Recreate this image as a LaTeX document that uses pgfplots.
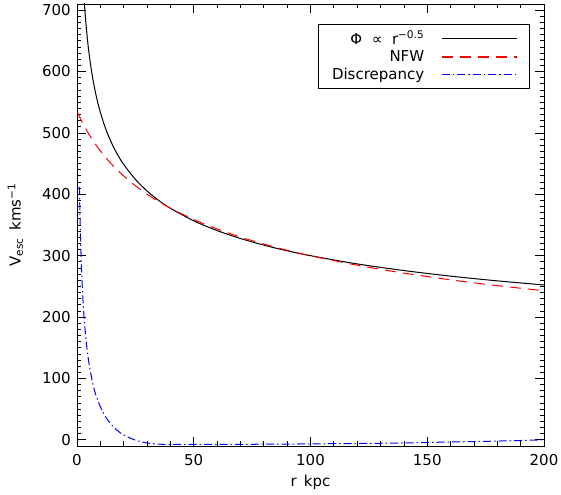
\documentclass[border=0pt]{standalone}
\usepackage{pgfplots}
\pgfplotsset{compat=1.18}
\usetikzlibrary{calc}
\usepackage{fontspec}
\setmainfont{DejaVu Sans}
\begin{document}
\fontsize{15pt}{18pt}\selectfont
\begin{tikzpicture}
\begin{axis}[
  name=ax,
  at={(0,0)}, anchor=south west,
  width=467pt, height=442pt, scale only axis,
  xmin=0, xmax=200, ymin=-10, ymax=710,
  xtick={0,50,100,150,200},
  ytick={0,100,200,300,400,500,600,700},
  minor x tick num=4, minor y tick num=9,
  tick align=inside,
  major tick length=9pt, minor tick length=4.5pt,
  every tick/.style={black, line width=0.8pt},
  axis line style={line width=0.9pt},
  /pgf/number format/assume math mode=true,
  ticklabel style={font=\fontsize{15pt}{18pt}\selectfont},
  xticklabel style={yshift=-3pt},
  yticklabel style={xshift=-1pt},
  label style={font=\fontsize{15pt}{18pt}\selectfont},
  xlabel={r\, kpc},
  ylabel={V\textsubscript{esc}\, kms\textsuperscript{−1}},
  xlabel style={yshift=1pt},
  ylabel style={yshift=9pt},
  legend plot pos=right,
  legend cell align=right,
  legend style={at={(rel axis cs:0.97,0.955)}, anchor=north east,
    line width=0.6pt, font=\fontsize{15pt}{18pt}\selectfont,
    column sep=0pt, row sep=0pt, inner xsep=12pt, inner ysep=5pt},
  legend image code/.code={\draw[#1] (0pt,0pt) -- (75pt,0pt);},
  clip=true,
]
\addplot[forget plot, color=black, line width=1pt, smooth] coordinates {
(3.0,720.8)(3.4,698.6)(3.5,693.6)(4,670.8)(4.5,651.4)(5,634.4)(6,606.2)(7,583.2)(8,564.1)(9,547.7)(10,533.5)(12,509.7)(14,490.4)(16,474.3)(18,460.6)(20,448.6)(25,424.3)(30,405.4)(35,390.0)(40,377.2)(50,356.8)(60,340.9)(70,328.0)(80,317.2)(90,308.0)(100,300.0)(120,286.6)(140,275.8)(160,266.7)(180,259.0)(200,252.3)
};
\addplot[forget plot, color=red, line width=1pt, dash pattern=on 11pt off 7pt, smooth] coordinates {
(0.3,533)(1,526.8)(2,519.1)(3,511.9)(4,505.0)(5,498.5)(6,492.5)(7,486.6)(8,481.1)(10,470.8)(12,461.3)(14,452.5)(16,444.4)(18,436.9)(20,429.9)(25,414.0)(30,400.3)(35,388.2)(40,377.4)(50,358.9)(60,343.5)(70,330.3)(80,318.9)(90,308.8)(100,299.9)(120,284.5)(140,271.6)(160,260.7)(180,251.2)(200,242.9)
};
\addplot[forget plot, color=blue, line width=1pt, dash pattern=on 8pt off 3pt on 1.5pt off 3pt, smooth] coordinates {
(1.05,412)(1.2,380)(1.5,330)(2,272)(2.5,232)(3,201)(4,158)(5,128)(6,106)(7,88)(8,74)(10,54)(12,39)(14,28)(16,20)(18,13)(20,8)(25,-0.5)(30,-5)(35,-7)(40,-7.5)(50,-7.5)(60,-7.5)(70,-7.5)(80,-7)(90,-7)(100,-6.5)(120,-6)(140,-5)(160,-3.5)(180,-2)(200,0)
};
\addlegendimage{draw=black, line width=1.2pt}
\addlegendentry{Φ \ ∝ \ r\textsuperscript{−0.5}\rule{15pt}{0pt}}
\addlegendimage{draw=red, line width=1.5pt, dash pattern=on 11pt off 7pt}
\addlegendentry{NFW\rule{15pt}{0pt}}
\addlegendimage{draw=blue, line width=1.5pt, dash pattern=on 8pt off 3pt on 1.5pt off 3pt}
\addlegendentry{Discrepancy\rule{15pt}{0pt}}
\end{axis}
\pgfresetboundingbox
\path[use as bounding box] ($(ax.south west)+(-77pt,-49pt)$) rectangle ($(ax.north east)+(17pt,4pt)$);
\end{tikzpicture}
\end{document}
